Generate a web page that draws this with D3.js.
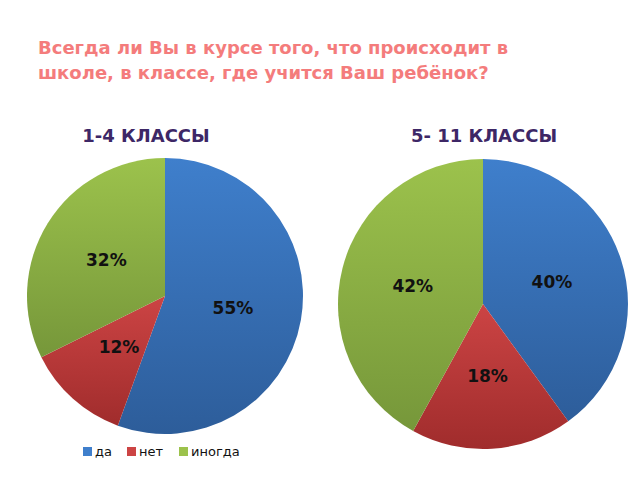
<!DOCTYPE html>
<html><head><meta charset="utf-8">
<script src="https://cdn.jsdelivr.net/npm/d3@7"></script>
<style>body{margin:0;background:#fff}</style></head>
<body><svg id="c" width="640" height="480"></svg>
<script>
const categories = ["да","нет","иногда"];
const groupTitles = ["1-4 КЛАССЫ","5- 11 КЛАССЫ"];
const values1 = [55,12,32];
const values2 = [40,18,42];
const colors = [["#3f7fcc","#2d5d9a"],["#cc4444","#a02c2c"],["#9cc24c","#76973a"]];

const svg = d3.select("#c");
const font = "'DejaVu Sans', sans-serif";
const defs = svg.append("defs");
colors.forEach((c,i)=>{
  const g = defs.append("linearGradient").attr("id","g"+i).attr("x1",0).attr("y1",0).attr("x2",0).attr("y2",1);
  g.append("stop").attr("offset","0%").attr("stop-color",c[0]);
  g.append("stop").attr("offset","100%").attr("stop-color",c[1]);
});

svg.append("text").attr("x",38).attr("y",54).attr("fill","#f47c7c").attr("font-family",font)
  .attr("font-weight","bold").attr("font-size",18).text("Всегда ли Вы в курсе того, что происходит в");
svg.append("text").attr("x",38).attr("y",79).attr("fill","#f47c7c").attr("font-family",font)
  .attr("font-weight","bold").attr("font-size",18).text("школе, в классе, где учится Ваш ребёнок?");

const pies = [{vals:values1,cx:165,cy:296,r:138,tx:146},{vals:values2,cx:483,cy:304,r:145,tx:484}];
pies.forEach((p,k)=>{
  svg.append("text").attr("x",p.tx).attr("y",142).attr("text-anchor","middle").attr("fill","#3d2766")
    .attr("font-family",font).attr("font-weight","bold").attr("font-size",18).text(groupTitles[k]);
  const arcs = d3.pie().sort(null)(p.vals);
  const arc = d3.arc().innerRadius(0).outerRadius(p.r);
  const lab = d3.arc().innerRadius(p.r*0.5).outerRadius(p.r*0.5);
  const g = svg.append("g").attr("transform",`translate(${p.cx},${p.cy})`);
  g.selectAll("path").data(arcs).join("path").attr("d",arc).attr("fill",(d,i)=>`url(#g${i})`);
  g.selectAll("text").data(arcs).join("text")
    .attr("transform",d=>`translate(${lab.centroid(d)})`).attr("text-anchor","middle").attr("dy","0.35em")
    .attr("font-family",font).attr("font-weight","bold").attr("font-size",17).attr("fill","#111")
    .text(d=>d.data+"%");
});

const lx=[83,127,179];
categories.forEach((c,i)=>{
  svg.append("rect").attr("x",lx[i]).attr("y",447).attr("width",9).attr("height",9).attr("fill",colors[i][0]);
  svg.append("text").attr("x",lx[i]+12).attr("y",456).attr("font-family",font).attr("font-size",13)
    .attr("fill","#111").text(c);
});
</script></body></html>
